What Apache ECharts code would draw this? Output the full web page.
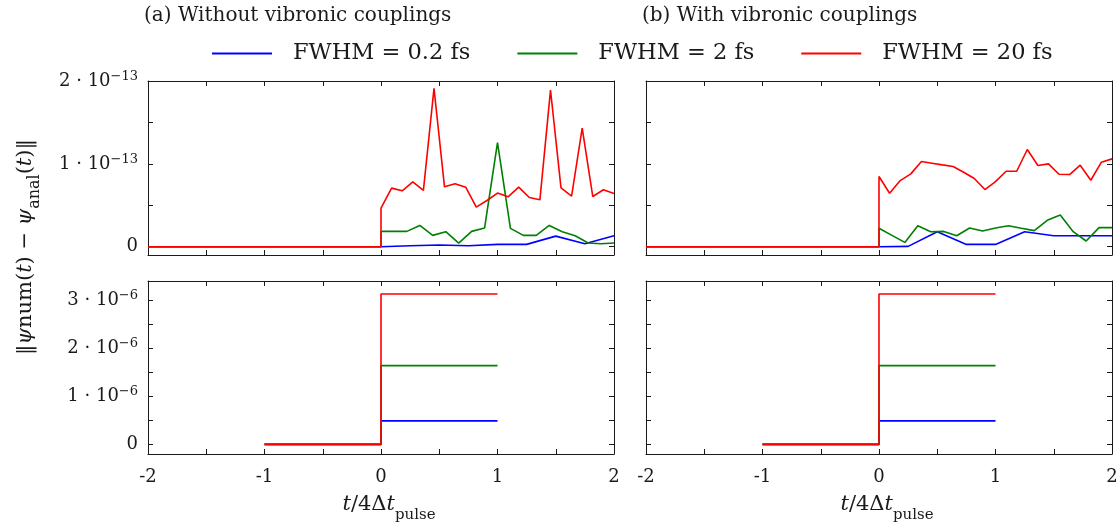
<!DOCTYPE html>
<html>
<head>
<meta charset="utf-8">
<script src="https://cdn.jsdelivr.net/npm/echarts@6/dist/echarts.min.js"></script>
<style>
  html, body { margin: 0; padding: 0; background: #ffffff; }
  #chart { width: 1117px; height: 524px; }
</style>
</head>
<body>
<div id="chart"></div>
<script>
// Pulse widths shown in the legend and their line colours
const seriesNames = ['FWHM = 0.2 fs', 'FWHM = 2 fs', 'FWHM = 20 fs'];
const seriesColors = ['#0000ff', '#008000', '#ff0000'];

// Sampling times (t / 4Δt_pulse) after the pulse starts, one grid per pulse width
const tBlue  = [0, 0.25, 0.5, 0.75, 1, 1.25, 1.5, 1.75, 2];
const tGreen = [0, 0.111, 0.222, 0.333, 0.444, 0.556, 0.667, 0.778, 0.889, 1,
                1.111, 1.222, 1.333, 1.444, 1.556, 1.667, 1.778, 1.889, 2];
const tRed   = [0, 0.091, 0.182, 0.273, 0.364, 0.455, 0.545, 0.636, 0.727, 0.818, 0.909, 1,
                1.091, 1.182, 1.273, 1.364, 1.455, 1.545, 1.636, 1.727, 1.818, 1.909, 2];

// Error norm before the pulse (t < 0), units of 1e-13
const tBefore = [-2, 0];
const errBefore = [0, 0];

// (a) Without vibronic couplings: error norm, units of 1e-13
const errBlueA  = [0.005, 0.012, 0.02, 0.012, 0.028, 0.028, 0.128, 0.036, 0.133];
const errGreenA = [0.185, 0.185, 0.185, 0.257, 0.137, 0.181, 0.044, 0.185, 0.225, 1.257,
                   0.221, 0.137, 0.137, 0.257, 0.181, 0.133, 0.044, 0.036, 0.044];
const errRedA   = [0.466, 0.707, 0.675, 0.783, 0.679, 1.91, 0.723, 0.759, 0.719, 0.478, 0.558, 0.647,
                   0.602, 0.719, 0.594, 0.566, 1.89, 0.711, 0.61, 1.43, 0.606, 0.687, 0.643];

// (b) With vibronic couplings: error norm, units of 1e-13
const errBlueB  = [0.004, 0.004, 0.181, 0.028, 0.028, 0.181, 0.133, 0.133, 0.133];
const errGreenB = [0.222, 0.137, 0.052, 0.254, 0.181, 0.185, 0.133, 0.226, 0.19, 0.226,
                   0.254, 0.222, 0.194, 0.319, 0.383, 0.181, 0.069, 0.23, 0.23];
const errRedB   = [0.847, 0.645, 0.798, 0.879, 1.028, 1.008, 0.988, 0.968, 0.899, 0.823, 0.69, 0.786,
                   0.911, 0.911, 1.173, 0.98, 1.0, 0.875, 0.871, 0.984, 0.802, 1.02, 1.06];

// Lower panels: step profile, units of 1e-6
const tStep = [-1, 0, 0, 1];
const stepBlueA  = [0, 0, 0.49, 0.49];
const stepGreenA = [0, 0, 1.64, 1.64];
const stepRedA   = [0, 0, 3.13, 3.13];
const stepBlueB  = [0, 0, 0.49, 0.49];
const stepGreenB = [0, 0, 1.64, 1.64];
const stepRedB   = [0, 0, 3.13, 3.13];

// Tick positions and labels
const xTicks  = [-2, -1.5, -1, -0.5, 0, 0.5, 1, 1.5, 2];
const xLabels = [-2, -1, 0, 1, 2];
const yTicksTop  = [0, 0.5, 1, 1.5, 2];
const yLabelsTop = [0, 1, 2];
const yTicksBot  = [0, 0.5, 1, 1.5, 2, 2.5, 3];
const yLabelsBot = [0, 1, 2, 3];

const FONT = "'DejaVu Serif', 'Liberation Serif', serif";
const INK = '#1a1a1a';

const zip = (xs, ys) => xs.map((x, i) => [x, ys[i]]);
const withLead = (xs, ys) => zip(tBefore, errBefore).concat(zip(xs, ys));

const grids = [
  { left: 148, top: 81,  width: 466, height: 174, outerBoundsMode: 'none', containLabel: false },
  { left: 646, top: 81,  width: 466, height: 174, outerBoundsMode: 'none', containLabel: false },
  { left: 148, top: 281, width: 466, height: 173, outerBoundsMode: 'none', containLabel: false },
  { left: 646, top: 281, width: 466, height: 173, outerBoundsMode: 'none', containLabel: false }
];

const frameLine = { show: true, onZero: false, lineStyle: { color: INK, width: 1 } };
const tickStyle = (vals) => ({ show: true, inside: true, length: 5, customValues: vals,
                               lineStyle: { color: INK, width: 1 } });

const xAxes = [];
const yAxes = [];
grids.forEach((g, i) => {
  const bottomRow = i >= 2;
  xAxes.push({
    type: 'value', gridIndex: i, min: -2, max: 2, position: 'bottom',
    axisLine: frameLine, axisTick: tickStyle(xTicks), splitLine: { show: false },
    axisLabel: bottomRow
      ? { show: true, customValues: xLabels, margin: 14, fontFamily: FONT, fontSize: 18, color: INK,
          formatter: v => String(v) }
      : { show: false },
    name: bottomRow ? '{i|t}/4Δ{i|t}{sub|pulse}' : '',
    nameLocation: 'middle', nameGap: 19,
    nameTextStyle: {
      fontFamily: FONT, fontSize: 21, color: INK, lineHeight: 36, padding: [0, 0, 0, 16],
      rich: {
        i: { fontFamily: FONT, fontSize: 21, fontStyle: 'italic', color: INK, lineHeight: 36 },
        sub: { fontFamily: FONT, fontSize: 15, color: INK, lineHeight: 18, verticalAlign: 'bottom' }
      }
    }
  });
  xAxes.push({
    type: 'value', gridIndex: i, min: -2, max: 2, position: 'top',
    axisLine: frameLine, axisTick: tickStyle(xTicks), axisLabel: { show: false },
    splitLine: { show: false }
  });
  const top = i < 2;
  const leftCol = i % 2 === 0;
  const exp = top ? '−13' : '−6';
  yAxes.push({
    type: 'value', gridIndex: i, position: 'left',
    min: top ? -0.1 : -0.2, max: top ? 2 : 3.4,
    axisLine: frameLine, axisTick: tickStyle(top ? yTicksTop : yTicksBot), splitLine: { show: false },
    axisLabel: leftCol
      ? { show: true, customValues: top ? yLabelsTop : yLabelsBot, margin: 10,
          fontFamily: FONT, fontSize: 18, color: INK,
          formatter: v => v === 0 ? '{m|0}' : `{m|${v} · 10}{s|${exp}}`,
          rich: {
            m: { fontFamily: FONT, fontSize: 18, color: INK, lineHeight: 22 },
            s: { fontFamily: FONT, fontSize: 13, color: INK, lineHeight: 13, verticalAlign: 'top' }
          } }
      : { show: false }
  });
  yAxes.push({
    type: 'value', gridIndex: i, position: 'right',
    min: top ? -0.1 : -0.2, max: top ? 2 : 3.4,
    axisLine: frameLine, axisTick: tickStyle(top ? yTicksTop : yTicksBot),
    axisLabel: { show: false }, splitLine: { show: false }
  });
});

const panelData = [
  [withLead(tBlue, errBlueA), withLead(tGreen, errGreenA), withLead(tRed, errRedA)],
  [withLead(tBlue, errBlueB), withLead(tGreen, errGreenB), withLead(tRed, errRedB)],
  [zip(tStep, stepBlueA), zip(tStep, stepGreenA), zip(tStep, stepRedA)],
  [zip(tStep, stepBlueB), zip(tStep, stepGreenB), zip(tStep, stepRedB)]
];

const series = [];
panelData.forEach((sets, i) => {
  sets.forEach((data, k) => {
    series.push({
      type: 'line', name: seriesNames[k], data,
      xAxisIndex: 2 * i, yAxisIndex: 2 * i,
      symbol: 'none', showSymbol: false, clip: true,
      lineStyle: { color: seriesColors[k], width: 1.6 },
      itemStyle: { color: seriesColors[k] },
      z: 2 + k
    });
  });
});

const chart = echarts.init(document.getElementById('chart'), null, { renderer: 'canvas' });
chart.setOption({
  animation: false,
  backgroundColor: '#ffffff',
  title: [
    { text: '(a) Without vibronic couplings', left: 144, top: 6, padding: 0,
      textStyle: { fontFamily: FONT, fontSize: 20, fontWeight: 'normal', color: INK } },
    { text: '(b) With vibronic couplings', left: 642, top: 6, padding: 0,
      textStyle: { fontFamily: FONT, fontSize: 20, fontWeight: 'normal', color: INK } }
  ],
  legend: {
    data: seriesNames, left: 212, top: 42, padding: 0,
    icon: 'rect', itemWidth: 60, itemHeight: 2, itemGap: 47,
    textStyle: { fontFamily: FONT, fontSize: 22.5, color: INK, padding: [0, 0, 0, 16] }
  },
  grid: grids,
  xAxis: xAxes,
  yAxis: yAxes,
  series,
  graphic: [{
    type: 'text', x: 26, y: 247, rotation: Math.PI / 2,
    style: {
      text: '‖{i|ψ}num({i|t}) − {i|ψ}{sub|anal}({i|t})‖',
      fontFamily: FONT, fontSize: 21, fill: INK,
      align: 'center', verticalAlign: 'middle', lineHeight: 34,
      rich: {
        i: { fontFamily: FONT, fontSize: 21, fontStyle: 'italic', fill: INK, lineHeight: 34 },
        sub: { fontFamily: FONT, fontSize: 16, fill: INK, lineHeight: 18, verticalAlign: 'bottom' }
      }
    }
  }]
});
</script>
</body>
</html>
